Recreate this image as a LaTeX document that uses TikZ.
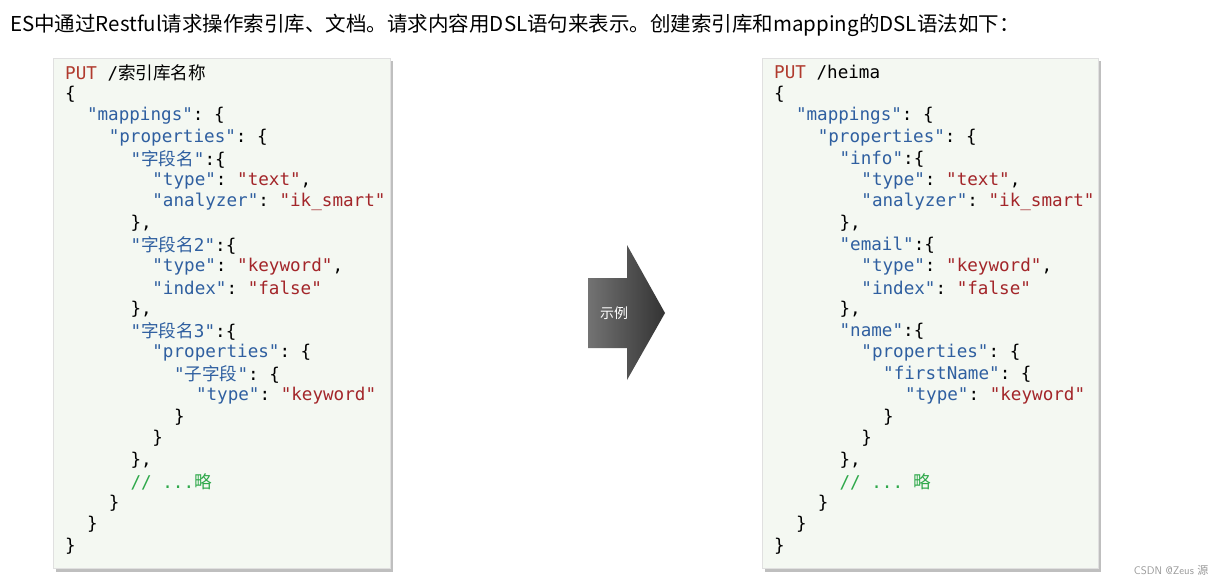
\documentclass[tikz,border=0pt]{standalone}
\usepackage{fontspec}
\setmonofont{DejaVu Sans Mono}
\newfontfamily\cjk{Noto Sans CJK SC}
\definecolor{keyblue}{HTML}{2F5FA0}
\definecolor{strred}{HTML}{A3262A}
\definecolor{putred}{HTML}{B03A2E}
\definecolor{cmtgreen}{HTML}{2EA84A}
\definecolor{boxfill}{HTML}{F4F8F2}
\def\K#1{\textcolor{keyblue}{"#1"}}
\def\Q#1{\textcolor{strred}{"#1"}}
\def\C#1{{\cjk #1}}
\tikzset{
  codebox/.style={fill=boxfill, draw=black!12},
  boxshadow/.style={fill=black!25},
  codeline/.style={anchor=west, inner sep=0pt, font=\ttfamily\fontsize{17.6}{20}\selectfont},
}
\begin{document}
\begin{tikzpicture}[x=1pt,y=-1pt]
\useasboundingbox (0,0) rectangle (1221,586);
\fill[white] (0,0) rectangle (1221,586);
\node[anchor=west, inner sep=0pt, font=\cjk\fontsize{20.5}{22}\selectfont] (title) at (10,25)
  {ES中通过Restful请求操作索引库、文档。请求内容用DSL语句来表示。创建索引库和mapping的DSL语法如下：};

% left box
\fill[boxshadow] (56,61) rectangle (393,572);
\draw[codebox] (53,58) rectangle (390,568);
\foreach \ind/\txt [count=\i] in {
  0/{\textcolor{putred}{PUT} /\C{索引库名称}}, 0/\{, 2/{\K{mappings}: \{}, 4/{\K{properties}: \{},
  6/{\textcolor{keyblue}{"\C{字段名}"}:\{}, 8/{\K{type}: \Q{text},}, 8/{\K{analyzer}: \Q{ik\_smart}}, 6/{\},},
  6/{\textcolor{keyblue}{"\C{字段名}2"}:\{}, 8/{\K{type}: \Q{keyword},}, 8/{\K{index}: \Q{false}}, 6/{\},},
  6/{\textcolor{keyblue}{"\C{字段名}3"}:\{}, 8/{\K{properties}: \{}, 10/{\textcolor{keyblue}{"\C{子字段}"}: \{},
  12/{\K{type}: \Q{keyword}}, 10/\}, 8/\}, 6/{\},},
  6/{\textcolor{cmtgreen}{// ...\C{略}}}, 4/\}, 2/\}, 0/\}}
  \node[codeline] (l\i) at ({65+10.9*\ind},{73+21.5*(\i-1)}) {\txt};

% right box
\fill[boxshadow] (765,61) rectangle (1101,572);
\draw[codebox] (762,58) rectangle (1098,568);
\foreach \ind/\txt [count=\i] in {
  0/{\textcolor{putred}{PUT} /heima}, 0/\{, 2/{\K{mappings}: \{}, 4/{\K{properties}: \{},
  6/{\K{info}:\{}, 8/{\K{type}: \Q{text},}, 8/{\K{analyzer}: \Q{ik\_smart}}, 6/{\},},
  6/{\K{email}:\{}, 8/{\K{type}: \Q{keyword},}, 8/{\K{index}: \Q{false}}, 6/{\},},
  6/{\K{name}:\{}, 8/{\K{properties}: \{}, 10/{\K{firstName}: \{},
  12/{\K{type}: \Q{keyword}}, 10/\}, 8/\}, 6/{\},},
  6/{\textcolor{cmtgreen}{// ... \C{略}}}, 4/\}, 2/\}, 0/\}}
  \node[codeline] (r\i) at ({774+10.9*\ind},{73+21.5*(\i-1)}) {\txt};

% arrow
\shade[left color=black!55, right color=black!80]
  (588,278) -- (627,278) -- (627,245) -- (665,313) -- (627,380) -- (627,348) -- (588,348) -- cycle;
\node[text=white, font=\cjk\fontsize{14}{16}\selectfont] (arrowlbl) at (614,313) {示例};

\node[anchor=east, text=black!40, font=\sffamily\fontsize{11}{12}\selectfont] (mark) at (1212,570) {CSDN @Zeus {\cjk 源}};
\end{tikzpicture}
\end{document}
